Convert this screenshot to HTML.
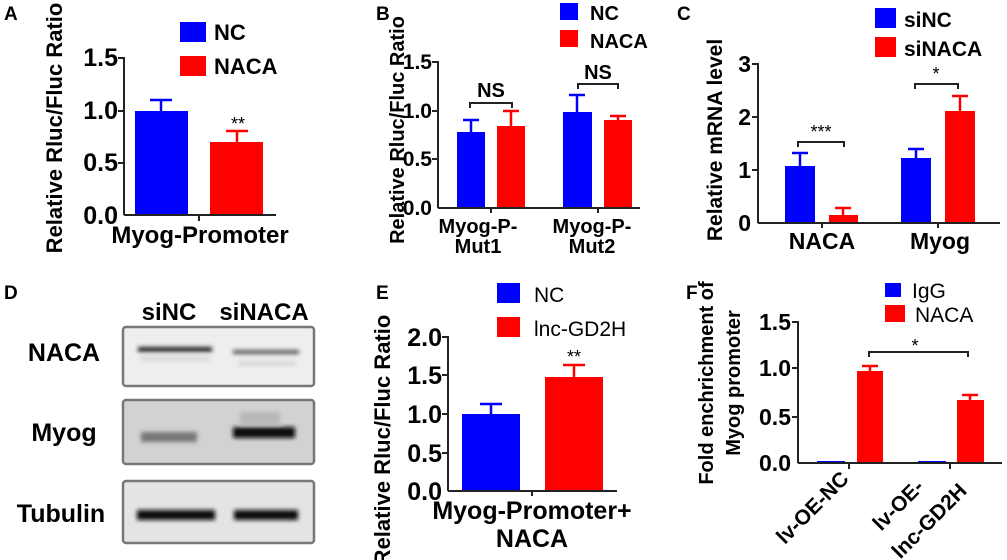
<!DOCTYPE html>
<html><head><meta charset="utf-8"><style>
html,body{margin:0;padding:0;background:#fff;}
svg{display:block;font-family:"Liberation Sans",Arial,sans-serif;font-weight:bold;}
</style></head><body>
<svg width="1007" height="560" viewBox="0 0 1007 560" xmlns="http://www.w3.org/2000/svg">
<defs>
<filter id="bl" x="-20%" y="-80%" width="140%" height="260%"><feGaussianBlur stdDeviation="2"/></filter>
</defs>
<!-- Panel A -->
<text x="4" y="20" font-size="19">A</text>
<text transform="translate(62,128) rotate(-90)" font-size="22" text-anchor="middle">Relative Rluc/Fluc Ratio</text>
<rect x="180" y="22" width="26" height="20" fill="#0000ff"/><text x="214" y="40" font-size="22">NC</text>
<rect x="180" y="56" width="26" height="20" fill="#ff0000"/><text x="214" y="74" font-size="22">NACA</text>
<g font-size="25" text-anchor="end"><text x="118" y="66">1.5</text><text x="118" y="119">1.0</text><text x="118" y="171">0.5</text><text x="118" y="224">0.0</text></g>
<rect x="135" y="111" width="53" height="104" fill="#0000ff"/>
<rect x="210" y="142" width="53" height="73" fill="#ff0000"/>
<g stroke="#0000ff" stroke-width="2.5"><line x1="161" y1="111" x2="161" y2="100"/><line x1="150" y1="100" x2="172" y2="100"/></g>
<g stroke="#ff0000" stroke-width="2.5"><line x1="237" y1="142" x2="237" y2="131"/><line x1="226" y1="131" x2="248" y2="131"/></g>
<text x="238" y="130" font-size="18" text-anchor="middle" font-weight="normal">**</text>
<g stroke="#222" stroke-width="2"><line x1="124" y1="57" x2="124" y2="215"/><line x1="124" y1="215" x2="276" y2="215"/>
<line x1="118" y1="58" x2="124" y2="58"/><line x1="118" y1="111" x2="124" y2="111"/><line x1="118" y1="163" x2="124" y2="163"/><line x1="199" y1="215" x2="199" y2="221"/></g>
<text x="200" y="243" font-size="24" text-anchor="middle">Myog-Promoter</text>

<!-- Panel B -->
<text x="376" y="20" font-size="19">B</text>
<text transform="translate(404,130) rotate(-90)" font-size="20" text-anchor="middle">Relative Rluc/Fluc Ratio</text>
<rect x="560" y="3" width="18" height="17" fill="#0000ff"/><text x="590" y="20" font-size="20">NC</text>
<rect x="560" y="30" width="18" height="17" fill="#ff0000"/><text x="590" y="48" font-size="20">NACA</text>
<g font-size="21" text-anchor="end"><text x="432" y="69">1.5</text><text x="432" y="118">1.0</text><text x="432" y="166">0.5</text><text x="432" y="215">0.0</text></g>
<rect x="457" y="132" width="28" height="76" fill="#0000ff"/>
<rect x="497" y="126" width="28" height="82" fill="#ff0000"/>
<rect x="563" y="112" width="29" height="96" fill="#0000ff"/>
<rect x="604" y="120" width="28" height="88" fill="#ff0000"/>
<g stroke="#0000ff" stroke-width="2.5"><line x1="471" y1="132" x2="471" y2="120"/><line x1="463" y1="120" x2="479" y2="120"/><line x1="577" y1="112" x2="577" y2="95"/><line x1="569" y1="95" x2="585" y2="95"/></g>
<g stroke="#ff0000" stroke-width="2.5"><line x1="511" y1="126" x2="511" y2="111"/><line x1="503" y1="111" x2="519" y2="111"/><line x1="618" y1="120" x2="618" y2="116"/><line x1="610" y1="116" x2="626" y2="116"/></g>
<g stroke="#222" stroke-width="2" fill="none"><path d="M470 108 V103 H512 V108"/><path d="M578 89 V84 H618 V89"/>
<line x1="438" y1="61" x2="438" y2="208"/><line x1="438" y1="208" x2="640" y2="208"/>
<line x1="432" y1="62" x2="438" y2="62"/><line x1="432" y1="111" x2="438" y2="111"/><line x1="432" y1="159" x2="438" y2="159"/><line x1="491" y1="208" x2="491" y2="213"/><line x1="598" y1="208" x2="598" y2="213"/></g>
<text x="491" y="97" font-size="20" text-anchor="middle">NS</text>
<text x="598" y="79" font-size="20" text-anchor="middle">NS</text>
<g font-size="20" text-anchor="middle"><text x="478" y="233">Myog-P-</text><text x="478" y="253">Mut1</text><text x="592" y="233">Myog-P-</text><text x="592" y="253">Mut2</text></g>

<!-- Panel C -->
<text x="677" y="20" font-size="19">C</text>
<text transform="translate(722,140) rotate(-90)" font-size="21" text-anchor="middle">Relative mRNA level</text>
<rect x="875" y="8" width="21" height="20" fill="#0000ff"/><text x="904" y="27" font-size="21">siNC</text>
<rect x="875" y="37" width="21" height="20" fill="#ff0000"/><text x="904" y="56" font-size="21">siNACA</text>
<g font-size="23" text-anchor="end"><text x="751" y="72">3</text><text x="751" y="125">2</text><text x="751" y="178">1</text><text x="751" y="231">0</text></g>
<rect x="785" y="166" width="30" height="57" fill="#0000ff"/>
<rect x="829" y="215" width="29" height="8" fill="#ff0000"/>
<rect x="901" y="158" width="30" height="65" fill="#0000ff"/>
<rect x="945" y="111" width="30" height="112" fill="#ff0000"/>
<g stroke="#0000ff" stroke-width="2.5"><line x1="800" y1="166" x2="800" y2="153"/><line x1="792" y1="153" x2="808" y2="153"/><line x1="916" y1="158" x2="916" y2="149"/><line x1="908" y1="149" x2="924" y2="149"/></g>
<g stroke="#ff0000" stroke-width="2.5"><line x1="843" y1="215" x2="843" y2="208"/><line x1="835" y1="208" x2="851" y2="208"/><line x1="960" y1="111" x2="960" y2="96"/><line x1="952" y1="96" x2="968" y2="96"/></g>
<g stroke="#222" stroke-width="2" fill="none"><path d="M798 147 V142 H844 V147"/><path d="M915 89 V84 H958 V89"/>
<line x1="758" y1="63" x2="758" y2="223"/><line x1="758" y1="223" x2="1000" y2="223"/>
<line x1="752" y1="64" x2="758" y2="64"/><line x1="752" y1="117" x2="758" y2="117"/><line x1="752" y1="170" x2="758" y2="170"/><line x1="822" y1="223" x2="822" y2="228"/><line x1="938" y1="223" x2="938" y2="228"/></g>
<text x="821" y="138" font-size="18" text-anchor="middle" font-weight="normal">***</text>
<text x="936" y="80" font-size="18" text-anchor="middle" font-weight="normal">*</text>
<g font-size="23" text-anchor="middle"><text x="822" y="249">NACA</text><text x="940" y="249">Myog</text></g>

<!-- Panel D -->
<text x="4" y="299" font-size="19">D</text>
<g font-size="24" text-anchor="middle"><text x="169" y="320">siNC</text><text x="264" y="320">siNACA</text></g>
<g font-size="25" text-anchor="middle"><text x="64" y="361">NACA</text><text x="64" y="441">Myog</text><text x="61" y="522">Tubulin</text></g>
<rect x="123" y="327" width="191" height="59" rx="3" fill="#eeeeee" stroke="#777" stroke-width="2.5"/>
<rect x="123" y="400" width="191" height="64" rx="3" fill="#d2d2d2" stroke="#777" stroke-width="2.5"/>
<rect x="123" y="481" width="191" height="62" rx="3" fill="#e4e4e4" stroke="#777" stroke-width="2.5"/>
<g filter="url(#bl)">
<rect x="138" y="347" width="74" height="5" fill="#222"/>
<rect x="233" y="350" width="66" height="4" fill="#555"/>
<rect x="140" y="356" width="70" height="6" fill="#ddd"/>
<rect x="238" y="361" width="58" height="5" fill="#d8d8d8"/>
<rect x="141" y="432" width="56" height="10" fill="#777"/>
<rect x="233" y="427" width="62" height="11" fill="#111"/>
<rect x="240" y="412" width="40" height="12" fill="#b8b8b8"/>
<rect x="137" y="510" width="78" height="10" fill="#111"/>
<rect x="234" y="510" width="64" height="10" fill="#111"/>
</g>

<!-- Panel E -->
<text x="376" y="299" font-size="19">E</text>
<text transform="translate(390,440) rotate(-90)" font-size="22" text-anchor="middle">Relative Rluc/Fluc Ratio</text>
<rect x="497" y="283" width="23" height="20" fill="#0000ff"/><text x="534" y="302" font-size="21" font-weight="normal">NC</text>
<rect x="497" y="317" width="23" height="20" fill="#ff0000"/><text x="534" y="336" font-size="21" font-weight="normal">lnc-GD2H</text>
<g font-size="25" text-anchor="end"><text x="442" y="346">2.0</text><text x="442" y="384">1.5</text><text x="442" y="423">1.0</text><text x="442" y="462">0.5</text><text x="442" y="500">0.0</text></g>
<rect x="462" y="414" width="58" height="77" fill="#0000ff"/>
<rect x="545" y="377" width="58" height="114" fill="#ff0000"/>
<g stroke="#0000ff" stroke-width="2.5"><line x1="491" y1="414" x2="491" y2="404"/><line x1="480" y1="404" x2="502" y2="404"/></g>
<g stroke="#ff0000" stroke-width="2.5"><line x1="574" y1="377" x2="574" y2="365"/><line x1="563" y1="365" x2="585" y2="365"/></g>
<text x="574" y="363" font-size="18" text-anchor="middle" font-weight="normal">**</text>
<g stroke="#222" stroke-width="2"><line x1="448" y1="336" x2="448" y2="491"/><line x1="448" y1="491" x2="617" y2="491"/>
<line x1="442" y1="337" x2="448" y2="337"/><line x1="442" y1="375" x2="448" y2="375"/><line x1="442" y1="414" x2="448" y2="414"/><line x1="442" y1="453" x2="448" y2="453"/><line x1="532" y1="491" x2="532" y2="496"/></g>
<g font-size="25" text-anchor="middle"><text x="532" y="519">Myog-Promoter+</text><text x="532" y="547">NACA</text></g>

<!-- Panel F -->
<text x="686" y="299" font-size="19">F</text>
<g font-size="20" text-anchor="middle"><text transform="translate(713,383) rotate(-90)">Fold enchrichment of</text><text transform="translate(740,383) rotate(-90)">Myog promoter</text></g>
<rect x="885" y="283" width="16" height="14" fill="#0000ff"/><text x="912" y="298" font-size="21" font-weight="normal">IgG</text>
<rect x="885" y="305" width="20" height="17" fill="#ff0000"/><text x="915" y="322" font-size="21" font-weight="normal">NACA</text>
<g font-size="23" text-anchor="end"><text x="791" y="330">1.5</text><text x="791" y="376">1.0</text><text x="791" y="425">0.5</text><text x="791" y="471">0.0</text></g>
<rect x="817" y="461" width="28" height="2" fill="#0000ff"/>
<rect x="918" y="461" width="28" height="2" fill="#0000ff"/>
<rect x="857" y="371" width="26" height="92" fill="#ff0000"/>
<rect x="957" y="400" width="27" height="63" fill="#ff0000"/>
<g stroke="#ff0000" stroke-width="2.5"><line x1="870" y1="371" x2="870" y2="366"/><line x1="862" y1="366" x2="878" y2="366"/><line x1="970" y1="400" x2="970" y2="395"/><line x1="962" y1="395" x2="978" y2="395"/></g>
<g stroke="#222" stroke-width="2" fill="none"><path d="M869 357 V352 H968 V357"/>
<line x1="798" y1="321" x2="798" y2="463"/><line x1="798" y1="463" x2="1002" y2="463"/>
<line x1="792" y1="322" x2="798" y2="322"/><line x1="792" y1="368" x2="798" y2="368"/><line x1="792" y1="417" x2="798" y2="417"/><line x1="849" y1="463" x2="849" y2="469"/><line x1="950" y1="463" x2="950" y2="469"/></g>
<text x="915" y="352" font-size="18" text-anchor="middle" font-weight="normal">*</text>
<g font-size="21" text-anchor="end">
<text transform="translate(850,480) rotate(-45)">lv-OE-NC</text>
<text transform="translate(925,488) rotate(-45)">lv-OE-</text>
<text transform="translate(968,492) rotate(-45)">lnc-GD2H</text>
</g>
</svg>
</body></html>
